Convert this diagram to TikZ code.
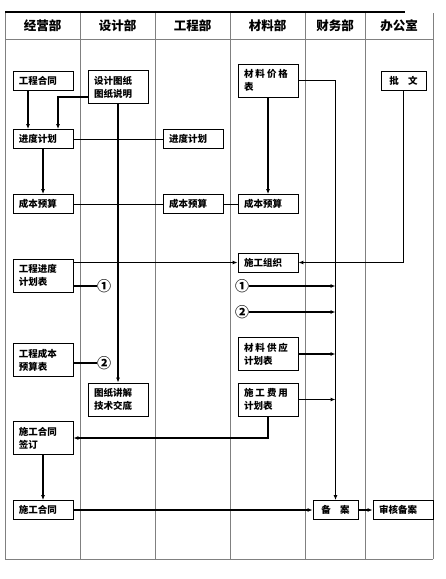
\documentclass[tikz,border=0pt]{standalone}
\usepackage{fontspec}
\usetikzlibrary{arrows.meta}
\newfontfamily\cjk{Noto Sans CJK SC}
\newcommand\gap{\kern2pt}
\tikzset{
  box/.style={draw, line width=0.8pt, fill=white, font=\cjk\bfseries\fontsize{9.5}{13}\selectfont,
    text width=48pt, inner xsep=6pt, inner ysep=2pt, align=left, minimum height=19pt},
  tallbox/.style={box, minimum height=33pt},
  smallbox/.style={box, text width=33pt, align=center},
  lane/.style={draw=gray, line width=0.8pt},
  link/.style={line width=1.2pt},
  flow/.style={line width=1.8pt},
  num/.style={font=\cjk\bfseries\fontsize{14}{14}\selectfont, inner sep=0pt},
  head/.style={font=\cjk\bfseries\fontsize{12.5}{14}\selectfont}
}
\begin{document}
\begin{tikzpicture}[x=1pt, y=-1pt, >={Latex[length=5pt,width=4pt]}]
  \useasboundingbox (0,0) rectangle (446,579);
  % Lanes
  \foreach \x in {5,80,155,230,305,365,433}
    \draw[lane] (\x,13) -- (\x,559);
  \draw[lane] (5,39) -- (433,39);
  \draw[lane] (5,559) -- (433,559);
  \draw[line width=1.2pt] (5,12) -- (405,12);
  \foreach \x/\t [count=\i] in {42.5/经营部, 117.5/设计部, 192.5/工程部, 267.5/材料部, 335/财务部, 399/办公室}
    \node[head] (head\i) at (\x,26) {\t};
  % Boxes
  \node[box] (hetong) at (43,80.5) {工程合同};
  \node[tallbox] (tuzhi) at (118,87) {设计图纸\\图纸说明};
  \node[tallbox] (jiage) at (268,80.5) {材\gap 料\gap 价\gap 格\\表};
  \node[smallbox] (piwen) at (403.5,80.5) {批\quad 文};
  \node[box] (jindu) at (43,139) {进度计划};
  \node[box] (gcjindu) at (193,139) {进度计划};
  \node[box] (chengben) at (43,204) {成本预算};
  \node[box] (gcchengben) at (193,204) {成本预算};
  \node[box] (clchengben) at (268,204) {成本预算};
  \node[tallbox] (jindubiao) at (43,275.5) {工程进度\\计划表};
  \node[box] (zuzhi) at (268,262.5) {施工组织};
  \node[tallbox] (gongying) at (268,354) {材\gap 料\gap 供\gap 应\\计划表};
  \node[tallbox] (chengbenbiao) at (43,360) {工程成本\\预算表};
  \node[tallbox] (jiangjie) at (118,399.5) {图纸讲解\\技术交底};
  \node[tallbox] (feiyong) at (268,399.5) {施\gap 工\gap 费\gap 用\\计划表};
  \node[tallbox] (qianding) at (43,438) {施工合同\\签订};
  \node[box] (shigong) at (43,510) {施工合同};
  \node[smallbox] (beian) at (335.5,510) {备\quad 案};
  \node[box] (shenhe) at (403,510) {审核备案};
  % Circled marks
  \node[num] (marka) at (104,286) {①};
  \node[num] (markb) at (104,363) {②};
  \node[num] (markc) at (242,286) {①};
  \node[num] (markd) at (242,312) {②};
  % Connectors
  \draw[link,->] ([xshift=-15pt]hetong.south) -- ([xshift=-15pt]jindu.north);
  \draw[link,->] ([yshift=-10pt]tuzhi.west) -| ([xshift=15pt]jindu.north);
  \draw[flow,->] (tuzhi.south) -- (jiangjie.north);
  \draw[flow,->] (jiage.south) -- (clchengben.north);
  \draw[flow,->] (jiage.east) -| (beian.north);
  \draw[flow,->] (piwen.south) |- (zuzhi.east);
  \draw (jindu.east) -- (gcjindu.west);
  \draw[link,->] (jindu.south) -- (chengben.north);
  \draw (chengben.east) -- (gcchengben.west);
  \draw (gcchengben.east) -- (clchengben.west);
  \draw[link,->] (jindubiao.east |- zuzhi.west) -- (zuzhi.west);
  \draw[link] (jindubiao.east |- marka) -- (marka.west);
  \draw[link] (chengbenbiao.east |- markb) -- (markb.west);
  \draw[link,->] (markc.east) -- (markc -| beian.north);
  \draw[link,->] (markd.east) -- (markd -| beian.north);
  \draw[link,->] (gongying.east) -- (gongying -| beian.north);
  \draw[link,->] (feiyong.east) -- (feiyong -| beian.north);
  \draw[link,->] (feiyong.south) |- (qianding.east);
  \draw[link,->] (qianding.south) -- (shigong.north);
  \draw[link,->] (shigong.east) -- (beian.west);
  \draw[link,->] (beian.east) -- (shenhe.west);
\end{tikzpicture}
\end{document}
